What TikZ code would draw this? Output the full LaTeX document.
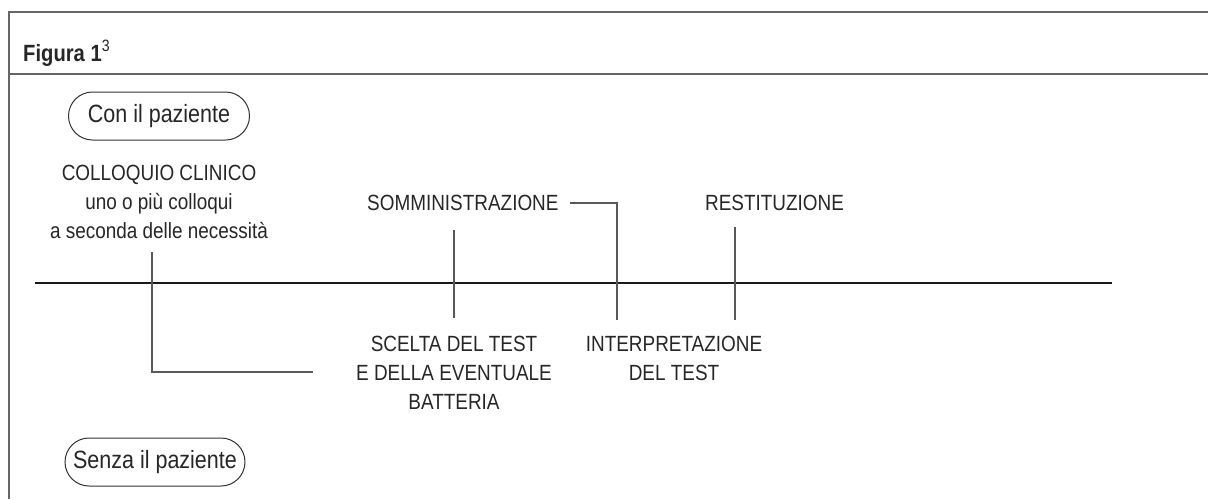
\documentclass[tikz,border=0pt]{standalone}
\usepackage{fontspec}
\setmainfont{Liberation Sans}[FakeStretch=0.86]
\begin{document}
\begin{tikzpicture}[x=1pt,y=-1pt,
  lbl/.style={font=\fontsize{22}{29}\selectfont, text=black!85, align=center, inner sep=0pt},
  pill/.style={draw=black!80, line width=1pt, rounded corners=24pt, minimum height=48pt, inner xsep=8pt, font=\fontsize{25}{28}\selectfont, text=black!85},
  frame/.style={draw=black!60, line width=1.4pt},
  tick/.style={draw=black!65, line width=1.2pt},
  axis/.style={draw=black!90, line width=1.2pt}]
\useasboundingbox (0,0) rectangle (1208,499);
% frame
\draw[frame] (9,499) -- (9,12) -- (1208,12);
\draw[frame] (9,74) -- (1208,74);
\node[anchor=base west, inner sep=0pt, font=\fontsize{23.5}{26}\selectfont\bfseries, text=black!85] (title) at (23,61) {Figura 1\textsuperscript{\normalfont 3}};
% pills
\node[pill, minimum width=181pt] (con) at (159,116) {Con il paziente};
\node[pill, minimum width=180pt] (senza) at (155,462) {Senza il paziente};
% timeline
\coordinate (axL) at (35,283);
\coordinate (axR) at (1112,283);
\draw[axis] (axL) -- (axR);
% labels
\node[lbl] (coll) at (159,202) {COLLOQUIO CLINICO\\uno o più colloqui\\a seconda delle necessità};
\node[lbl, anchor=west] (somm) at (367,203) {SOMMINISTRAZIONE};
\node[lbl, anchor=west] (rest) at (705,203) {RESTITUZIONE};
\node[lbl, anchor=north] (scelta) at (454,336) {SCELTA DEL TEST\\E DELLA EVENTUALE\\BATTERIA};
\node[lbl, anchor=north] (interp) at (674,336) {INTERPRETAZIONE\\DEL TEST};
% connectors
\coordinate (c1) at (152,252);
\coordinate (c2) at (313,372);
\draw[tick] (c1) |- (c2);
\coordinate (s1) at (454,230);
\coordinate (s2) at (454,318);
\draw[tick] (s1) -- (s2);
\coordinate (i1) at (570,203);
\coordinate (i2) at (617,320);
\draw[tick] (i1) -| (i2);
\coordinate (r1) at (735,227);
\coordinate (r2) at (735,320);
\draw[tick] (r1) -- (r2);
\end{tikzpicture}
\end{document}
